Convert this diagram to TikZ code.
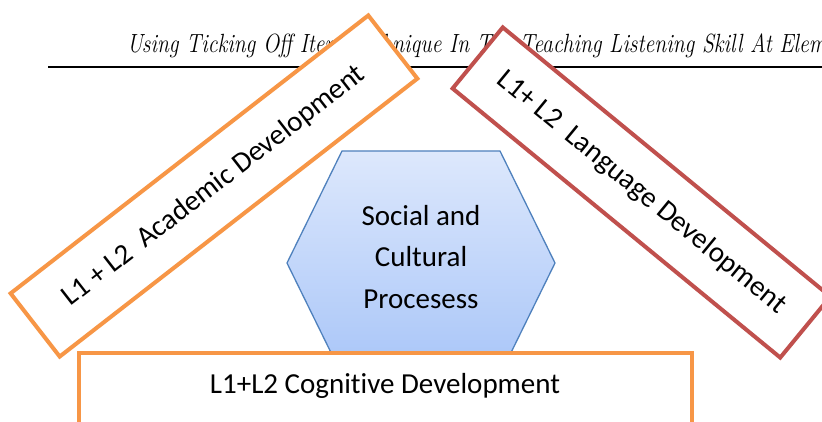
\documentclass[tikz,border=0pt]{standalone}
\usepackage{fontspec}
\usepackage{graphicx}
\newfontfamily\calfont[Ligatures=NoCommon]{Carlito}
\definecolor{acadorange}{HTML}{F79646}
\definecolor{langred}{HTML}{C0504D}
\definecolor{hexblue}{HTML}{4F81BD}
\definecolor{hextop}{HTML}{DDE8FC}
\definecolor{hexbot}{HTML}{A8C5F8}
\tikzset{
  rotbox/.style={draw, line width=4pt, fill=white, inner sep=0pt, outer sep=0pt,
    font=\calfont\fontsize{29}{34}\selectfont, text=black},
  lbl/.style={font=\calfont\fontsize{29}{41.5}\selectfont, align=center, text=black, inner sep=0pt},
}
\begin{document}
\begin{tikzpicture}[x=1pt,y=-1pt]
\useasboundingbox (0,0) rectangle (822,422);
\clip (0,0) rectangle (822,422);
\fill[white] (0,0) rectangle (822,422);
% header
\node[anchor=base west, inner sep=0pt] (hdr) at (127,53)
  {\resizebox{699pt}{18.8pt}{\fontsize{26.5}{30}\selectfont\itshape Using Ticking Off Item Technique In The Teaching Listening Skill At Elem}};
\draw[line width=2.2pt] (48,67) -- (830,67);
% hexagon
\path[draw=hexblue, line width=1.3pt, top color=hextop, bottom color=hexbot]
  (342,151) -- (500,151) -- (555,263) -- (500,375) -- (342,375) -- (287,263) -- cycle;
\node[lbl] (soc) at (421,257) {Social and\\Cultural\\Procesess};
% rotated boxes
\node[rotbox, draw=acadorange, rotate=37.85, minimum width=453pt, minimum height=80pt]
  (acad) at (214,186) {L1 + L2\ \ Academic Development};
\node[rotbox, draw=langred, rotate=-39.4, minimum width=424pt, minimum height=79pt]
  (lang) at (641.5,192.5) {L1+ L2\ \ Language Development};
% bottom box
\draw[acadorange, line width=4pt, fill=white] (79,353) rectangle (692,440);
\node[lbl, anchor=base] (cog) at (385,393) {L1+L2 Cognitive Development};
\end{tikzpicture}
\end{document}
